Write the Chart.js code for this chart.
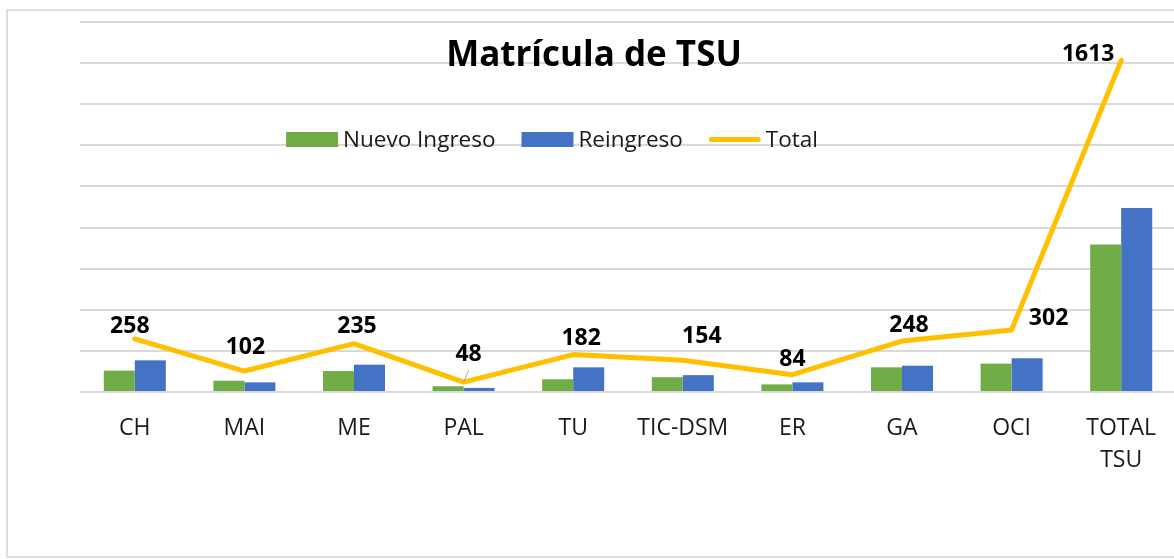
<!DOCTYPE html>
<html><head><meta charset="utf-8">
<script src="https://cdn.jsdelivr.net/npm/chart.js@4.4.0/dist/chart.umd.min.js"></script>
<style>
html,body{margin:0;padding:0;background:#fff;overflow:hidden;width:1174px;height:559px}
#frame{position:absolute;left:6px;top:9px;width:1200px;height:549px;border:2px solid #dedede;box-sizing:border-box}
#wrap{position:absolute;left:0;top:0;width:1176px;height:559px}
</style></head>
<body>
<div id="frame"></div>
<div id="wrap"><canvas id="c"></canvas></div>
<script>
const categories = ['CH','MAI','ME','PAL','TU','TIC-DSM','ER','GA','OCI',['TOTAL','TSU']];
const nuevoIngreso = [104,55,102,28,62,72,37,120,138,718];
const reingreso = [154,47,133,20,120,82,47,128,164,895];
const total = [258,102,235,48,182,154,84,248,302,1613];
const seriesNames = ['Nuevo Ingreso','Reingreso','Total'];
const chartTitle = 'Matrícula de TSU';
const yMax = 1800, yStep = 200;

// label offsets (style) relative to line points
const labelDx = [-5,1,3,5,8,19,0,7,37,-33];
const labelDy = [-14,-26,-19,-30,-18,-26,-17,-18,-13,-8];
const labelLeader = [false,false,false,true,false,false,false,false,false,false];

const GREEN='#70AD47', BLUE='#4472C4', ORANGE='#FFC000';
const FONT='"Open Sans", "Noto Sans", sans-serif';

const overlay = {
  id:'overlay',
  afterDatasetsDraw(chart){
    const ctx=chart.ctx;
    const meta=chart.getDatasetMeta(2);
    ctx.save();
    ctx.font='bold 23px '+FONT;
    ctx.fillStyle='#000';
    ctx.textAlign='center';
    ctx.textBaseline='alphabetic';
    meta.data.forEach((pt,i)=>{
      const cx=pt.x+labelDx[i], cy=pt.y+labelDy[i];
      if(labelLeader[i]){
        ctx.strokeStyle='#a6a6a6'; ctx.lineWidth=1;
        ctx.beginPath(); ctx.moveTo(cx,cy+18); ctx.lineTo(pt.x,pt.y); ctx.stroke();
      }
      ctx.fillText(String(total[i]),cx,cy+8.5);
    });
    // title
    ctx.font='bold 35px '+FONT;
    ctx.fillText(chartTitle,594,66);
    // legend
    ctx.font='22.5px '+FONT;
    ctx.textAlign='left';
    const boxW=52, gapT=5, gapI=26;
    const widths=seriesNames.map(s=>ctx.measureText(s).width);
    const totalW=widths.reduce((a,b)=>a+b,0)+3*(boxW+gapT)+2*gapI;
    let x=552-totalW/2;
    const colors=[GREEN,BLUE,ORANGE];
    for(let i=0;i<3;i++){
      if(i<2){
        ctx.fillStyle=colors[i]; ctx.fillRect(x,132,boxW,15);
      } else {
        ctx.strokeStyle=ORANGE; ctx.lineWidth=5; ctx.lineCap='round';
        ctx.beginPath(); ctx.moveTo(x+2.5,139.5); ctx.lineTo(x+boxW-2.5,139.5); ctx.stroke();
      }
      ctx.fillStyle='#1a1a1a';
      ctx.fillText(seriesNames[i],x+boxW+gapT,147);
      x+=boxW+gapT+widths[i]+gapI;
    }
    ctx.restore();
  }
};

new Chart(document.getElementById('c'),{
  data:{
    labels:categories,
    datasets:[
      {type:'bar',label:seriesNames[0],data:nuevoIngreso,backgroundColor:GREEN,order:1,categoryPercentage:0.566,barPercentage:1},
      {type:'bar',label:seriesNames[1],data:reingreso,backgroundColor:BLUE,order:2,categoryPercentage:0.566,barPercentage:1},
      {type:'line',label:seriesNames[2],data:total,borderColor:ORANGE,borderWidth:5,pointRadius:0,tension:0,borderJoinStyle:'round',borderCapStyle:'round',order:0}
    ]
  },
  options:{
    responsive:true,maintainAspectRatio:false,animation:false,
    layout:{padding:{left:80,top:22,right:0,bottom:0}},
    plugins:{legend:{display:false},title:{display:false},tooltip:{enabled:false}},
    scales:{
      x:{
        grid:{display:false},border:{display:false},
        ticks:{font:{family:FONT,size:23,lineHeight:1.4},color:'#1a1a1a',padding:12,maxRotation:0,autoSkip:false},
        afterFit(s){s.height=167;}
      },
      y:{
        min:0,max:yMax,
        ticks:{display:false,stepSize:yStep},
        grid:{color:'#d9d9d9',lineWidth:2,drawTicks:false},
        border:{display:false},
        afterFit(s){s.width=0;}
      }
    }
  },
  plugins:[overlay]
});
</script>
</body></html>
